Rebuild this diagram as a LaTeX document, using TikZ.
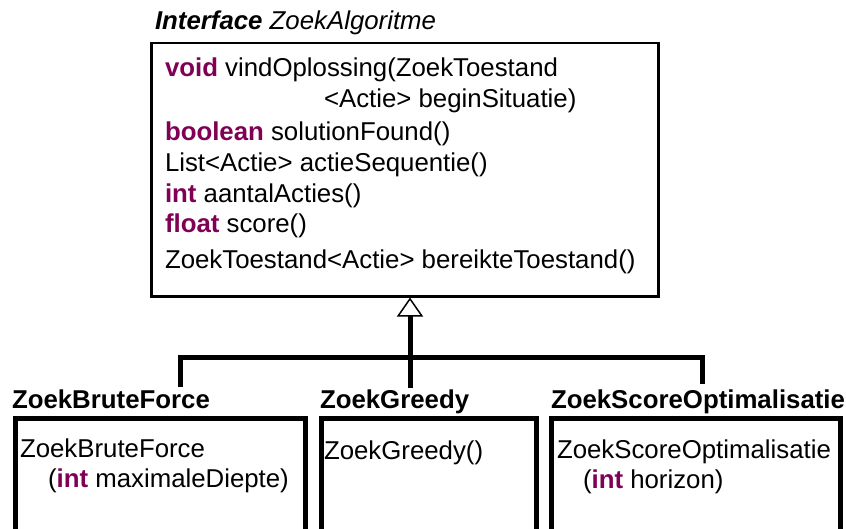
\documentclass[tikz,border=0pt]{standalone}
\usepackage{fontspec}
\setmainfont{Liberation Sans}
\usetikzlibrary{arrows.meta}
\definecolor{kwpurple}{HTML}{7F0055}
\newcommand{\kw}[1]{\textbf{\textcolor{kwpurple}{#1}}}
\begin{document}
\begin{tikzpicture}[x=1bp, y=-1bp,
  font=\fontsize{25.9}{31}\selectfont,
  txt/.style={anchor=base west, inner sep=0pt, outer sep=0pt},
  ifacebox/.style={draw, line width=2.5bp, anchor=north west, inner sep=0pt},
  classbox/.style={draw, line width=5bp, anchor=north west, inner sep=0pt, minimum height=200bp},
  conn/.style={line width=5bp, line join=miter},
  inherit/.style={-{Triangle[open, length=19bp, width=26bp, line width=1.5bp]}}]
\path[use as bounding box, clip] (0,0) rectangle (846,529);
\fill[white] (0,0) rectangle (846,529);

% interface
\node[txt] (ititle) at (155,30) {\textbf{\textit{Interface}} \textit{ZoekAlgoritme}};
\node[ifacebox, minimum width=507bp, minimum height=253bp] (iface) at (150,42) {};
\node[txt] (m1) at (165,77) {\kw{void} vindOplossing(ZoekToestand};
\node[txt] (m1b) at (324,108) {<Actie> beginSituatie)};
\node[txt] (m2) at (165,141) {\kw{boolean} solutionFound()};
\node[txt] (m3) at (165,172) {List<Actie> actieSequentie()};
\node[txt] (m4) at (165,203) {\kw{int} aantalActies()};
\node[txt] (m5) at (165,233) {\kw{float} score()};
\node[txt] (m6) at (165,269) {ZoekToestand<Actie> bereikteToestand()};

% classes
\node[txt] (bft) at (12,408) {\textbf{ZoekBruteForce}};
\node[classbox, minimum width=290bp] (bfbox) at (12.5,415.5) {};
\node[txt] (bf1) at (20,457) {ZoekBruteForce};
\node[txt] (bf2) at (48,487) {(\kw{int} maximaleDiepte)};

\node[txt] (grt) at (320,408) {\textbf{ZoekGreedy}};
\node[classbox, minimum width=215bp] (grbox) at (319,415.5) {};
\node[txt] (gr1) at (324,459) {ZoekGreedy()};

\node[txt] (sot) at (551,408) {\textbf{ZoekScoreOptimalisatie}};
\node[classbox, minimum width=289bp] (sobox) at (549,415.5) {};
\node[txt] (so1) at (557,458) {ZoekScoreOptimalisatie};
\node[txt] (so2) at (583,488) {(\kw{int} horizon)};

% connectors
\coordinate (J) at (410,357);
\coordinate (dl) at (180,387);
\coordinate (dm) at (410,388);
\coordinate (dr) at (702,384);
\draw[conn] (dl) |- (J) -| (dr);
\draw[conn, inherit] (dm) -- (dm |- iface.south);
\end{tikzpicture}
\end{document}
